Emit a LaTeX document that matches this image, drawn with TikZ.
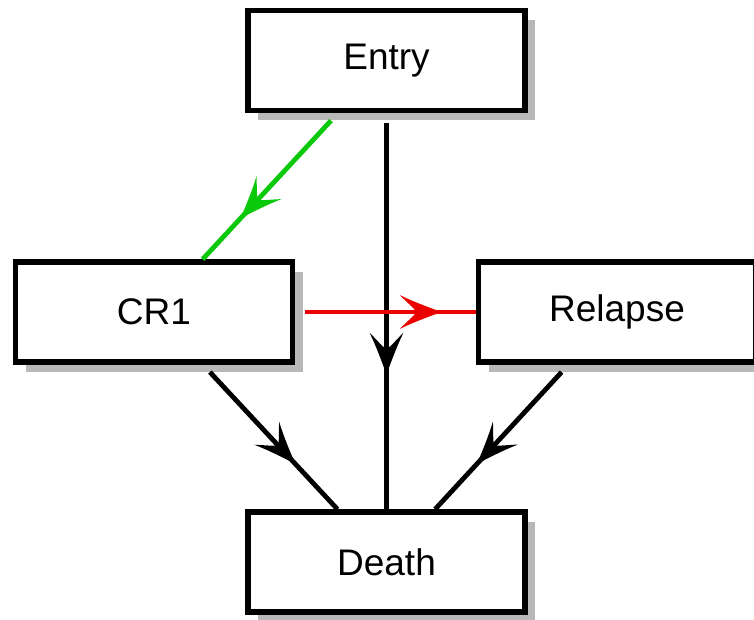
\documentclass[tikz,border=0pt]{standalone}
\usepackage{fontspec}
\setmainfont{Liberation Sans}
\usetikzlibrary{shadows,decorations.markings}

\definecolor{cgreen}{RGB}{10,200,10}
\definecolor{cred}{RGB}{235,0,0}

% filled head with slightly concave sides, tip at the origin, pointing along +x
\newcommand{\curvedhead}{%
  \fill (2,0) .. controls (-12,5) and (-28,11) .. (-40,17)
        .. controls (-33,10) and (-27,5) .. (-23,0)
        .. controls (-27,-5) and (-33,-10) .. (-40,-17)
        .. controls (-28,-11) and (-12,-5) .. (2,0) -- cycle;}

\tikzset{
  statebox/.style={draw, line width=5.5pt, fill=white,
    minimum width=277pt, minimum height=100pt, inner sep=0pt,
    font=\fontsize{37}{40}\selectfont,
    drop shadow={shadow xshift=10pt, shadow yshift=-10pt, fill=black!28, opacity=1}},
  midhead/.style={line width=4.8pt, shorten <=10pt, postaction={decorate},
    decoration={markings, mark=at position #1 with {\curvedhead}}},
}

\begin{document}
\begin{tikzpicture}[x=1pt, y=-1pt]
  \useasboundingbox (0,0) rectangle (754,620);

  % states
  \node[statebox] (entry)   at (386.5,60.5) {Entry};
  \node[statebox] (cr1)     at (154,312)    {CR1};
  \node[statebox] (relapse) at (617,312)    {Relapse};
  \node[statebox] (death)   at (386.5,562)  {Death};

  % transitions
  \draw[midhead=0.71, color=cgreen] (entry) -- (cr1);
  \draw[midhead=0.655, color=black] (entry) -- (death);
  \draw[midhead=0.80, color=cred] (cr1) -- (relapse);
  \draw[midhead=0.676, color=black] (cr1) -- (death);
  \draw[midhead=0.676, color=black] (relapse) -- (death);
\end{tikzpicture}
\end{document}
